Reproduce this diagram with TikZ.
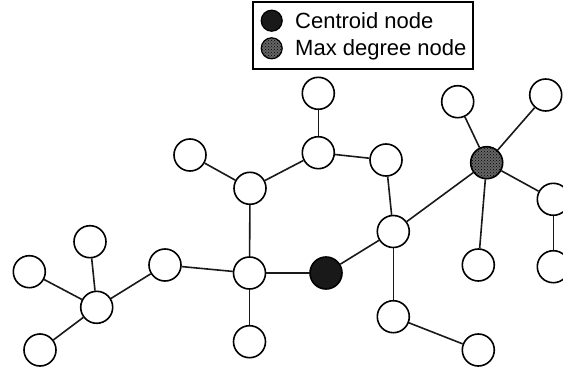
\documentclass[tikz,border=0pt]{standalone}
\usepackage{fontspec}
\setmainfont{Liberation Sans}
\usetikzlibrary{patterns}
\tikzset{
  vtx/.style={circle, draw=black, line width=1.6pt, minimum size=32pt, inner sep=0pt, fill=white},
  cent/.style={vtx, fill=black!90},
  hatchfill/.style={fill=black!60, postaction={pattern=crosshatch dots, pattern color=black}},
  maxd/.style={vtx, hatchfill},
  edge/.style={line width=1.6pt, draw=black!90},
  legtxt/.style={anchor=base west, inner sep=0pt, font=\fontsize{22pt}{24pt}\selectfont},
  legdot/.style={circle, draw=black, line width=1.2pt, minimum size=21pt, inner sep=0pt}
}
\begin{document}
\begin{tikzpicture}[x=1pt,y=-1pt]
\useasboundingbox (0,0) rectangle (563,372);
% legend
\node[draw=black, line width=1.5pt, minimum width=220pt, minimum height=67pt, inner sep=0pt, anchor=north west] (legend) at (252,1) {};
\node[legdot, fill=black!90] (lc) at (271.7,20.7) {};
\node[legdot, hatchfill] (lm) at (271.7,48.3) {};
\node[legtxt] (lct) at (295,28.5) {Centroid node};
\node[legtxt] (lmt) at (295,55.5) {Max degree node};
% nodes
\node[vtx] (A) at (29.3,271.7) {};
\node[vtx] (B) at (96.7,307.3) {};
\node[vtx] (C) at (90,241.7) {};
\node[vtx] (D) at (40,350) {};
\node[vtx] (E) at (165,265) {};
\node[vtx] (F) at (249.5,273) {};
\node[vtx] (G) at (250,188.3) {};
\node[vtx] (H) at (249.5,341.7) {};
\node[vtx] (I) at (190,155) {};
\node[vtx] (J) at (318.3,152.7) {};
\node[vtx] (K) at (318.3,93.3) {};
\node[vtx] (L) at (386,160) {};
\node[vtx] (M) at (393.3,231.5) {};
\node[cent] (Z) at (326,273) {};
\node[vtx] (N) at (393.3,316.7) {};
\node[vtx] (O) at (478.3,350) {};
\node[maxd] (P) at (486.7,162.7) {};
\node[vtx] (Q) at (457.7,101.7) {};
\node[vtx] (R) at (545.7,95) {};
\node[vtx] (S) at (553.3,199.3) {};
\node[vtx] (T) at (478.3,265) {};
\node[vtx] (U) at (553.3,266.7) {};
% edges
\draw[edge] (A) -- (B);
\draw[edge] (C) -- (B);
\draw[edge] (D) -- (B);
\draw[edge] (B) -- (E);
\draw[edge] (E) -- (F);
\draw[edge] (F) -- (G);
\draw[edge] (F) -- (H);
\draw[edge] (F) -- (Z);
\draw[edge] (G) -- (I);
\draw[edge] (G) -- (J);
\draw[edge] (J) -- (K);
\draw[edge] (J) -- (L);
\draw[edge] (L) -- (M);
\draw[edge] (M) -- (Z);
\draw[edge] (M) -- (N);
\draw[edge] (N) -- (O);
\draw[edge] (M) -- (P);
\draw[edge] (P) -- (Q);
\draw[edge] (P) -- (R);
\draw[edge] (P) -- (S);
\draw[edge] (P) -- (T);
\draw[edge] (S) -- (U);
\end{tikzpicture}
\end{document}
